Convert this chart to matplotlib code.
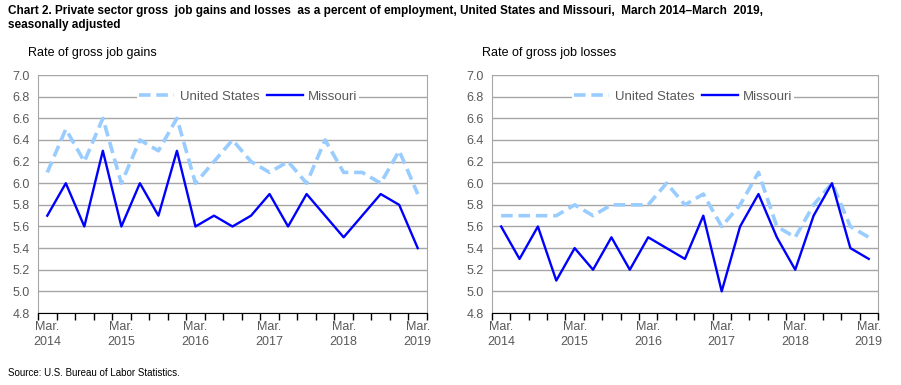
import numpy as np
import matplotlib
matplotlib.use("Agg")
from matplotlib import pyplot as plt

plt.rcParams['font.family'] = ['Liberation Sans', 'DejaVu Sans']

quarters = np.arange(21)
tick_pos = [0, 4, 8, 12, 16, 20]
tick_labels = ["Mar.\n2014", "Mar.\n2015", "Mar.\n2016", "Mar.\n2017", "Mar.\n2018", "Mar.\n2019"]

us_gains = [6.1, 6.5, 6.2, 6.6, 6.0, 6.4, 6.3, 6.6, 6.0, 6.2, 6.4,
            6.2, 6.1, 6.2, 6.0, 6.4, 6.1, 6.1, 6.0, 6.3, 5.9]
mo_gains = [5.7, 6.0, 5.6, 6.3, 5.6, 6.0, 5.7, 6.3, 5.6, 5.7, 5.6,
            5.7, 5.9, 5.6, 5.9, 5.7, 5.5, 5.7, 5.9, 5.8, 5.4]
us_losses = [5.7, 5.7, 5.7, 5.7, 5.8, 5.7, 5.8, 5.8, 5.8, 6.0, 5.8,
             5.9, 5.6, 5.8, 6.1, 5.6, 5.5, 5.8, 6.0, 5.6, 5.5]
mo_losses = [5.6, 5.3, 5.6, 5.1, 5.4, 5.2, 5.5, 5.2, 5.5, 5.4, 5.3,
             5.7, 5.0, 5.6, 5.9, 5.5, 5.2, 5.7, 6.0, 5.4, 5.3]

US_COLOR = "#99CCFF"
MO_COLOR = "#0000FF"
TXT = "#595959"


def draw_panel(ax, us, mo, legend_x):
    ax.plot(quarters, us, color=US_COLOR, lw=2.6, dashes=(3.2, 1.6), label="United States")
    ax.plot(quarters, mo, color=MO_COLOR, lw=1.7, label="Missouri")

    ax.set_xlim(-0.5, 20.5)
    ax.set_ylim(4.8, 7.0)
    ax.set_yticks(np.arange(4.8, 7.01, 0.2))
    ax.set_yticklabels([f"{v:.1f}" for v in np.arange(4.8, 7.01, 0.2)])
    ax.yaxis.grid(True, color="#A6A6A6", lw=1)
    ax.set_axisbelow(True)
    ax.tick_params(axis="y", length=0, pad=6, labelsize=9, labelcolor=TXT)

    ax.set_xticks(tick_pos)
    ax.set_xticklabels(tick_labels, linespacing=1.35)
    ax.set_xticks(np.arange(-0.5, 20.6, 1), minor=True)
    ax.tick_params(axis="x", which="major", length=0, pad=6, labelsize=9, labelcolor=TXT)
    ax.tick_params(axis="x", which="minor", length=5, color="black", width=1)

    ax.spines["top"].set_visible(False)
    ax.spines["left"].set_color("#A6A6A6")
    ax.spines["right"].set_color("#A6A6A6")
    ax.spines["bottom"].set_color("black")

    leg = ax.legend(loc="center", bbox_to_anchor=(legend_x, 0.909), ncol=2,
                    frameon=True, facecolor="white", edgecolor="none", framealpha=1,
                    fontsize=9.5, handlelength=2.7, columnspacing=0.6,
                    handletextpad=0.4, borderpad=0.1, fancybox=False)
    for t in leg.get_texts():
        t.set_color(TXT)


fig = plt.figure(figsize=(9.01, 3.85), dpi=100)
ax1 = fig.add_axes([0.0422, 0.187, 0.4317, 0.618])
ax2 = fig.add_axes([0.546, 0.187, 0.4284, 0.618])

draw_panel(ax1, us_gains, mo_gains, 0.54)
draw_panel(ax2, us_losses, mo_losses, 0.495)

fig.text(0.009, 0.988, "Chart 2. Private sector gross  job gains and losses  as a percent of employment, United States and Missouri,  March 2014\u2013March  2019,\nseasonally adjusted",
         ha="left", va="top", fontsize=8.5, fontweight="bold", linespacing=1.3)
fig.text(0.031, 0.862, "Rate of gross job gains", ha="left", va="center", fontsize=9)
fig.text(0.535, 0.862, "Rate of gross job losses", ha="left", va="center", fontsize=9)
fig.text(0.009, 0.032, "Source: U.S. Bureau of Labor Statistics.", ha="left", va="center", fontsize=7)

fig.savefig("out.png", dpi=100)
